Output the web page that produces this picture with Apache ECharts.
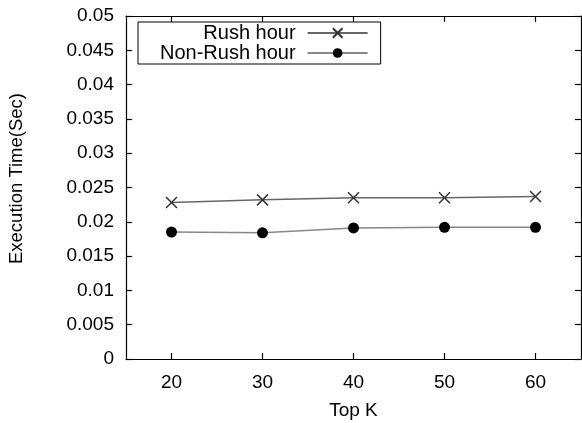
<!DOCTYPE html>
<html lang="en">
<head>
    <meta charset="UTF-8">
    <title>Execution time vs Top K</title>
</head>
<body style="margin: 0; background: #fff">
<div id="container" style="height: 423px; width: 582px;"></div>
<script type="text/javascript" src="https://cdn.jsdelivr.net/npm/echarts@6/dist/echarts.min.js"></script>
<script type="text/javascript">
    const topK = [20, 30, 40, 50, 60];
    const yTicks = [0, 0.005, 0.01, 0.015, 0.02, 0.025, 0.03, 0.035, 0.04, 0.045, 0.05];
    const rushHour = [0.0228, 0.0232, 0.0235, 0.0235, 0.0237];
    const nonRushHour = [0.0185, 0.0184, 0.0191, 0.0192, 0.0192];

    const font = 'Liberation Sans';
    const chart = echarts.init(document.getElementById('container'), null, {renderer: 'canvas'});

    const tick = {show: true, inside: true, length: 6, lineStyle: {color: '#000', width: 1.2}};
    const line = {show: true, onZero: false, lineStyle: {color: '#000', width: 1.2}};

    // mirrored ticks on the top and right borders (about 6px long, in data units)
    const xMin = 15, xMax = 65, yMin = 0, yMax = 0.05;
    const dy = (yMax - yMin) * 6 / 343;
    const dx = (xMax - xMin) * 6 / 455;
    const mirrorTicks = topK.map(k => [{coord: [k, yMax]}, {coord: [k, yMax - dy]}])
        .concat(yTicks.map(v => [{coord: [xMax, v]}, {coord: [xMax - dx, v]}]));

    const option = {
        backgroundColor: '#fff',
        animation: false,
        grid: {left: 126, right: 1, top: 16, bottom: 64, outerBoundsMode: 'none'},
        legend: {
            left: 138,
            top: 22,
            orient: 'vertical',
            align: 'right',
            itemWidth: 60,
            itemHeight: 12,
            itemGap: 0,
            padding: [1, 12, 1, 22],
            borderColor: '#000',
            borderWidth: 1,
            textStyle: {fontFamily: font, fontSize: 20, color: '#000', padding: [0, 7, 0, 0]},
            data: ['Rush hour', 'Non-Rush hour']
        },
        xAxis: [
            {
                type: 'value',
                min: xMin,
                max: xMax,
                interval: 10,
                name: 'Top K',
                nameLocation: 'middle',
                nameGap: 42,
                nameTextStyle: {fontFamily: font, fontSize: 19, color: '#000'},
                axisLine: line,
                axisTick: Object.assign({customValues: topK}, tick),
                axisLabel: {
                    fontFamily: font, fontSize: 19, color: '#000', margin: 14,
                    customValues: topK
                },
                splitLine: {show: false}
            },
            {
                // top border
                type: 'value',
                position: 'top',
                min: xMin,
                max: xMax,
                axisLine: line,
                axisTick: {show: false},
                axisLabel: {show: false},
                splitLine: {show: false}
            }
        ],
        yAxis: [
            {
                type: 'value',
                min: yMin,
                max: yMax,
                interval: 0.005,
                name: 'Execution Time(Sec)',
                nameLocation: 'middle',
                nameGap: 100,
                nameTextStyle: {fontFamily: font, fontSize: 18.5, color: '#000', padding: [0, 0, 0, 18]},
                axisLine: line,
                axisTick: tick,
                axisLabel: {
                    fontFamily: font, fontSize: 19, color: '#000', margin: 12,
                    formatter: function (v) { return String(+v.toFixed(3)); }
                },
                splitLine: {show: false}
            },
            {
                // right border
                type: 'value',
                position: 'right',
                min: yMin,
                max: yMax,
                axisLine: line,
                axisTick: {show: false},
                axisLabel: {show: false},
                splitLine: {show: false}
            }
        ],
        series: [
            {
                name: 'Rush hour',
                type: 'line',
                data: topK.map((k, i) => [k, rushHour[i]]),
                symbol: 'path://M0,0 L10,10 M10,0 L0,10',
                symbolSize: 11,
                itemStyle: {color: '#000', borderColor: '#333', borderWidth: 1.5},
                lineStyle: {color: '#666', width: 1.5},
                markLine: {
                    silent: true,
                    symbol: 'none',
                    label: {show: false},
                    lineStyle: {color: '#000', type: 'solid', width: 1.2},
                    data: mirrorTicks
                }
            },
            {
                name: 'Non-Rush hour',
                type: 'line',
                data: topK.map((k, i) => [k, nonRushHour[i]]),
                symbol: 'circle',
                symbolSize: 11,
                itemStyle: {color: '#000'},
                lineStyle: {color: '#888', width: 1.5}
            },
            {
                // empty series bound to the border axes
                type: 'line',
                xAxisIndex: 1,
                yAxisIndex: 1,
                data: [],
                silent: true
            }
        ]
    };
    chart.setOption(option);
</script>
</body>
</html>
